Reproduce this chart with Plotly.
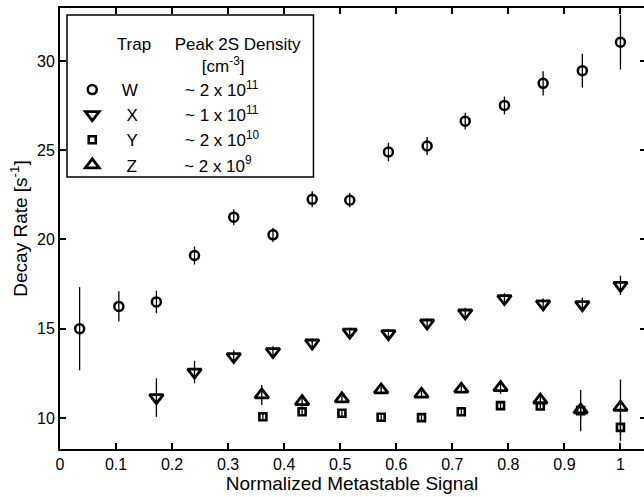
import plotly.graph_objects as go

# ---- data ----
x_W = [0.035, 0.105, 0.172, 0.24, 0.31, 0.38, 0.45, 0.517, 0.586, 0.655, 0.723, 0.793, 0.862, 0.932, 1.0]
y_W = [15.0, 16.25, 16.5, 19.1, 21.25, 20.26, 22.25, 22.2, 24.9, 25.24, 26.63, 27.51, 28.75, 29.46, 31.05]
e_W = [2.33, 0.85, 0.63, 0.5, 0.45, 0.4, 0.45, 0.4, 0.52, 0.5, 0.47, 0.5, 0.68, 0.94, 1.53]

x_X = [0.172, 0.24, 0.31, 0.38, 0.45, 0.517, 0.586, 0.655, 0.723, 0.793, 0.862, 0.932, 1.0]
y_X = [11.14, 12.57, 13.44, 13.72, 14.2, 14.81, 14.72, 15.32, 15.88, 16.69, 16.39, 16.35, 17.43]
e_X = [1.08, 0.63, 0.35, 0.3, 0.25, 0.25, 0.25, 0.25, 0.3, 0.3, 0.3, 0.4, 0.54]

x_Y = [0.362, 0.432, 0.503, 0.573, 0.645, 0.716, 0.786, 0.857, 0.929, 1.0]
y_Y = [10.07, 10.35, 10.26, 10.04, 10.02, 10.35, 10.69, 10.67, 10.41, 9.47]
e_Y = [0.15, 0.15, 0.15, 0.15, 0.15, 0.15, 0.15, 0.15, 1.15, 0.75]

x_Z = [0.36, 0.432, 0.503, 0.573, 0.645, 0.716, 0.786, 0.857, 0.929, 1.0]
y_Z = [11.29, 10.92, 11.07, 11.57, 11.33, 11.61, 11.7, 11.0, 10.45, 10.6]
e_Z = [0.56, 0.3, 0.2, 0.2, 0.2, 0.2, 0.35, 0.3, 0.4, 1.55]

trap_names = ["W", "X", "Y", "Z"]
densities = ["~ 2 x 10<sup>11</sup>", "~ 1 x 10<sup>11</sup>", "~ 2 x 10<sup>10</sup>", "~ 2 x 10<sup>9</sup>"]
x_ticks = [0, 0.1, 0.2, 0.3, 0.4, 0.5, 0.6, 0.7, 0.8, 0.9, 1]
y_ticks = [10, 15, 20, 25, 30]
x_range = [0, 1.042]
y_range = [8.26, 32.97]

FONT = "Liberation Sans, Arial, Helvetica, sans-serif"
NB = "\u00a0"

series = [
    (x_W, y_W, e_W, "circle-open", 9, 2.5),
    (x_X, y_X, e_X, "triangle-down-open", 12, 2.8),
    (x_Y, y_Y, e_Y, "square-open", 7, 2.6),
    (x_Z, y_Z, e_Z, "triangle-up-open", 12, 2.8),
]
lead = [2, 3, 3, 3]

fig = go.Figure()
for i, (xs, ys, es, sym, sz, lw) in enumerate(series):
    name = NB * lead[i] + trap_names[i] + NB * 10 + densities[i]
    fig.add_trace(go.Scatter(
        x=xs, y=ys, mode="markers", name=name,
        marker=dict(symbol=sym, size=sz, color="black", line=dict(width=lw, color="black")),
        error_y=dict(type="data", array=es, visible=True, width=0, thickness=1.3, color="black"),
    ))

# carrier trace for the right-hand tick axis (no points)
fig.add_trace(go.Scatter(x=[None], y=[None], yaxis="y2", showlegend=False,
                         hoverinfo="skip", mode="markers"))

legend_title = (NB * 9 + "Trap" + NB * 5 + "Peak 2S Density<br>" +
                NB * 27 + "[cm<sup>-3</sup>]")

# legend frame (white box with black border)
fig.add_shape(type="rect", xref="paper", yref="paper",
              x0=0.012, x1=0.434, y0=0.617, y1=0.984,
              line=dict(color="black", width=1.5), fillcolor="white", layer="above")

fig.update_layout(
    width=644, height=497,
    margin=dict(l=60, r=0, t=8, b=48),
    paper_bgcolor="white", plot_bgcolor="white",
    font=dict(family=FONT, size=16, color="black"),
    showlegend=True,
    legend=dict(
        x=0.021, y=0.955, xanchor="left", yanchor="top",
        bgcolor="rgba(0,0,0,0)", borderwidth=0,
        font=dict(family=FONT, size=17, color="black"),
        title=dict(text=legend_title, font=dict(family=FONT, size=17, color="black"), side="top"),
        tracegroupgap=0,
    ),
    xaxis=dict(
        range=x_range, tickvals=x_ticks, ticktext=[f"{v:g}" for v in x_ticks],
        ticks="inside", ticklen=6, tickwidth=1.5, tickcolor="black",
        showline=True, linewidth=2, linecolor="black", mirror="ticks",
        showgrid=False, zeroline=False,
        title=dict(text="Normalized Metastable Signal", font=dict(size=19), standoff=4),
        tickfont=dict(size=16),
    ),
    yaxis=dict(
        range=y_range, tickvals=y_ticks,
        ticks="inside", ticklen=6, tickwidth=1.5, tickcolor="black",
        showline=True, linewidth=2, linecolor="black", mirror=False,
        showgrid=False, zeroline=False,
        title=dict(text="Decay Rate [s<sup>-1</sup>]", font=dict(size=19), standoff=4),
        tickfont=dict(size=16),
    ),
    yaxis2=dict(
        range=y_range, tickvals=y_ticks, overlaying="y", side="right",
        ticks="inside", ticklen=4, tickwidth=1.5, tickcolor="black",
        showline=False, showticklabels=False, showgrid=False, zeroline=False,
    ),
)

fig.write_html("out.html")
